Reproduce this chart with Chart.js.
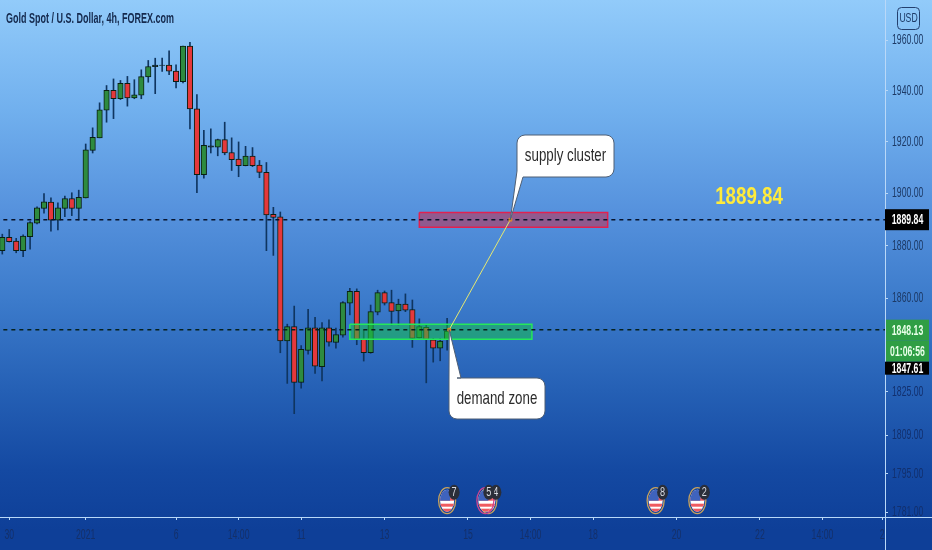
<!DOCTYPE html>
<html>
<head>
<meta charset="utf-8">
<style>
  html, body { margin: 0; padding: 0; }
  body { width: 932px; height: 550px; overflow: hidden; }
  canvas { display: block; background: linear-gradient(to bottom, #92cbfa 0, #71b0ee 110px, #5692dd 210px, #3c7bcb 300px, #2560b5 390px, #1449a2 470px, #0e3f98 530px, #0e3f98 550px); }
</style>
<script src="https://cdn.jsdelivr.net/npm/chart.js@4"></script>
</head>
<body>
<canvas id="myChart" width="932" height="550"></canvas>
<script>
var opens = [1878.0,1883.1,1881.7,1878.0,1883.3,1888.5,1894.2,1896.6,1889.7,1894.2,1898.0,1894.2,1898.2,1916.6,1921.5,1932.3,1940.1,1936.8,1942.9,1937.1,1938.2,1945.4,1949.4,1949.9,1950.1,1947.7,1943.5,1957.6,1932.8,1907.2,1918.4,1917.9,1920.8,1915.8,1913.2,1910.7,1914.4,1910.9,1908.1,1891.9,1890.9,1843.9,1849.3,1828.5,1840.4,1848.8,1834.3,1848.8,1843.4,1846.1,1858.1,1862.6,1844.5,1839.5,1854.7,1862.1,1858.3,1855.2,1857.8,1855.7,1845.0,1849.0,1844.3,1841.2,1844.5];
var highs = [1884.3,1886.1,1882.7,1884.0,1889.1,1894.8,1899.9,1898.2,1896.3,1898.9,1900.2,1901.2,1919.1,1925.4,1935.2,1942.0,1944.6,1944.0,1945.6,1944.3,1948.2,1951.9,1952.8,1952.8,1955.7,1950.2,1957.6,1959.1,1938.4,1924.4,1925.0,1921.0,1927.6,1921.5,1919.9,1918.2,1917.7,1912.7,1911.9,1894.6,1892.8,1850.2,1857.0,1842.2,1855.8,1852.8,1850.8,1851.8,1848.7,1858.7,1863.7,1863.5,1848.0,1857.4,1863.0,1862.7,1863.0,1859.6,1861.6,1859.3,1852.2,1849.9,1844.9,1844.9,1852.4];
var lows = [1876.7,1881.3,1877.2,1875.7,1878.6,1888.2,1892.3,1885.4,1885.9,1891.0,1891.4,1889.7,1898.2,1915.6,1921.5,1927.6,1929.0,1936.5,1933.9,1936.8,1936.8,1943.3,1938.8,1947.6,1946.3,1941.1,1943.0,1925.0,1900.2,1905.8,1915.6,1914.5,1914.9,1908.8,1906.4,1910.6,1910.3,1906.0,1878.0,1876.2,1839.5,1828.1,1816.9,1826.3,1839.0,1831.8,1829.0,1842.0,1841.2,1845.3,1853.7,1842.5,1836.4,1839.3,1853.7,1857.4,1849.9,1849.9,1854.9,1841.5,1844.9,1828.3,1836.0,1836.5,1840.5];
var closes = [1883.1,1881.4,1878.0,1883.6,1888.7,1894.4,1896.7,1889.7,1894.4,1898.0,1894.2,1898.4,1916.8,1921.7,1932.4,1940.1,1936.8,1942.9,1937.1,1938.3,1945.5,1949.5,1950.1,1950.1,1947.7,1943.5,1957.6,1932.8,1907.2,1918.6,1917.9,1920.8,1915.6,1913.0,1910.7,1914.4,1910.7,1908.1,1891.7,1890.7,1843.9,1849.3,1828.5,1840.8,1848.8,1834.5,1848.8,1843.5,1846.3,1858.3,1862.6,1844.5,1839.5,1854.9,1862.1,1858.1,1855.0,1857.8,1855.5,1844.9,1849.3,1844.5,1841.2,1843.9,1847.6];

var priceTicks = [1960, 1940, 1920, 1900, 1880, 1860, 1825, 1809, 1795, 1781];
var timeTickIdx = [1, 12, 25, 34, 43, 55, 67, 76, 85, 97, 109, 118, 126.6];
var timeTickLabels = ['30', '2021', '6', '14:00', '11', '13', '15', '14:00', '18', '20', '22', '14:00', '2'];

var supplyLevel = 1889.84;
var demandLevel = 1848.13;
var lastPrice = 1847.61;
var supplyZoneX = [60, 87.1];
var supplyZonePrice = [1892.6, 1886.9];
var demandZoneX = [50, 76.2];
var demandZonePrice = [1850.2, 1844.5];
var connectorX = [64.3, 73.1];
var eventIdx = [64, 69.5, 94, 100];
var eventCounts = ['7', '5', '8', '2'];

var sans = '"Liberation Sans"';
var indexes = opens.map(function (v, i) { return i; });

function rectPoints(xs, ys) {
    return [
        { x: xs[0], y: ys[0] }, { x: xs[1], y: ys[0] },
        { x: xs[1], y: ys[1] }, { x: xs[0], y: ys[1] }, { x: xs[0], y: ys[0] }
    ];
}

// text squeezed sideways, the reference picture is narrower than it is tall
function squeezed(ctx, font, text, x, y, sx) {
    ctx.save();
    ctx.font = font;
    ctx.translate(x, y);
    ctx.scale(sx, 1);
    ctx.fillText(text, 0, 0);
    ctx.restore();
}

function callout(ctx, b, tip, baseA, baseB, text) {
    var r = 8;
    ctx.beginPath();
    ctx.moveTo(b.l + r, b.t);
    ctx.arcTo(b.r, b.t, b.r, b.b, r);
    ctx.arcTo(b.r, b.b, b.l, b.b, r);
    if (tip.y > b.b) {
        ctx.lineTo(baseB, b.b);
        ctx.lineTo(tip.x, tip.y);
        ctx.lineTo(baseA, b.b - 6);
        ctx.lineTo(b.l, b.b - r);
        ctx.arcTo(b.l, b.t, b.r, b.t, r);
    } else {
        ctx.arcTo(b.l, b.b, b.l, b.t, r);
        ctx.lineTo(b.l, b.t + 2);
        ctx.lineTo(tip.x, tip.y);
        ctx.lineTo(baseB, b.t);
        ctx.lineTo(b.l + r, b.t);
    }
    ctx.closePath();
    ctx.fillStyle = '#ffffff';
    ctx.strokeStyle = '#4f5f74';
    ctx.lineWidth = 1;
    ctx.fill();
    ctx.stroke();
    ctx.fillStyle = '#2b2b2b';
    ctx.textAlign = 'center';
    ctx.textBaseline = 'middle';
    squeezed(ctx, '19px ' + sans, text, (b.l + b.r) / 2, (b.t + b.b) / 2, 0.7);
}

function badge(ctx, x, top, w, h, bg, fg, text) {
    ctx.fillStyle = bg;
    ctx.fillRect(x, top, w, h);
    ctx.fillStyle = fg;
    ctx.textAlign = 'center';
    ctx.textBaseline = 'middle';
    squeezed(ctx, 'bold 15px ' + sans, text, 907.5, top + h / 2 + 0.5, 0.58);
}

function eventMark(ctx, x, y, ring) {
    ctx.save();
    ctx.beginPath();
    ctx.ellipse(x, y, 7, 11, 0, 0, Math.PI * 2);
    ctx.fillStyle = '#ffffff';
    ctx.fill();
    ctx.clip();
    ctx.fillStyle = '#ef5a5f';
    ctx.fillRect(x - 9, y - 9, 18, 3);
    ctx.fillRect(x - 9, y - 3, 18, 3);
    ctx.fillRect(x - 9, y + 3, 18, 3);
    ctx.fillRect(x - 9, y + 8, 18, 4);
    ctx.fillStyle = '#3f63bd';
    ctx.fillRect(x - 9, y - 12, 12, 12);
    ctx.restore();
    ctx.beginPath();
    ctx.ellipse(x, y, 8.5, 13, 0, 0, Math.PI * 2);
    ctx.strokeStyle = ring;
    ctx.lineWidth = 1.3;
    ctx.stroke();
}

function eventCount(ctx, x, y, text) {
    ctx.beginPath();
    ctx.ellipse(x, y, 5.5, 7.5, 0, 0, Math.PI * 2);
    ctx.fillStyle = '#2a2e39';
    ctx.fill();
    ctx.fillStyle = '#d8dbe2';
    ctx.textAlign = 'center';
    ctx.textBaseline = 'middle';
    squeezed(ctx, '13px ' + sans, text, x, y + 0.5, 0.7);
}

var overlay = {
    id: 'overlay',
    afterDraw: function (chart) {
        var ctx = chart.ctx, a = chart.chartArea;
        var xs = chart.scales.x, ys = chart.scales.y;
        ctx.save();

        // axis lines run on to the edge of the picture
        ctx.strokeStyle = '#b9d8f8';
        ctx.lineWidth = 1;
        ctx.beginPath();
        ctx.moveTo(a.right + 0.5, a.bottom);
        ctx.lineTo(a.right + 0.5, 550);
        ctx.moveTo(a.right, a.bottom + 0.5);
        ctx.lineTo(932, a.bottom + 0.5);
        ctx.stroke();

        // axis labels from the library's ticks, squeezed like the reference
        ctx.textBaseline = 'middle';
        ctx.textAlign = 'left';
        ys.ticks.forEach(function (t, i) {
            ctx.fillStyle = t.value < 1830 ? '#12306e' : '#1d3a66';
            squeezed(ctx, '15px ' + sans, t.label, 892, ys.getPixelForTick(i), 0.58);
        });
        ctx.textAlign = 'center';
        ctx.fillStyle = '#14306a';
        xs.ticks.forEach(function (t, i) {
            squeezed(ctx, '14.5px ' + sans, t.label, xs.getPixelForTick(i), 535, 0.6);
        });

        // title
        ctx.fillStyle = '#14294d';
        ctx.textAlign = 'left';
        squeezed(ctx, 'bold 15px ' + sans, 'Gold Spot / U.S. Dollar, 4h, FOREX.com', 6, 19, 0.6);

        // currency box
        ctx.strokeStyle = '#24406e';
        ctx.beginPath();
        ctx.roundRect(897.5, 7.5, 22, 22, 4);
        ctx.stroke();
        ctx.fillStyle = '#1d3a66';
        ctx.textAlign = 'center';
        squeezed(ctx, '12px ' + sans, 'USD', 908.5, 18.5, 0.72);

        // level text
        ctx.fillStyle = '#ffeb3b';
        squeezed(ctx, 'bold 24px ' + sans, supplyLevel.toFixed(2), 749, ys.getPixelForValue(supplyLevel) - 22, 0.78);

        // price badges
        var supplyY = ys.getPixelForValue(supplyLevel);
        var demandY = ys.getPixelForValue(demandLevel);
        badge(ctx, 885, supplyY - 10.5, 44, 21, '#000000', '#ffffff', supplyLevel.toFixed(2));
        badge(ctx, 886, demandY - 10, 43, 21, '#2f9e44', '#e8ffe8', demandLevel.toFixed(2));
        badge(ctx, 886, demandY + 11, 43, 21, '#2f9e44', '#e8ffe8', '01:06:56');
        badge(ctx, 885, demandY + 32, 44, 13, '#000000', '#ffffff', lastPrice.toFixed(2));

        // callouts
        var supplyTip = { x: xs.getPixelForValue(connectorX[1]), y: supplyY };
        var demandTip = { x: xs.getPixelForValue(connectorX[0]), y: demandY };
        callout(ctx, { l: 517, t: 135, r: 614, b: 177 }, supplyTip, 517, 523, 'supply cluster');
        callout(ctx, { l: 449, t: 378, r: 545, b: 419 }, demandTip, 449, 461, 'demand zone');

        // economic events
        var my = 500.7;
        eventMark(ctx, xs.getPixelForValue(eventIdx[0]), my, '#c9a35c');
        eventMark(ctx, xs.getPixelForValue(eventIdx[1]) + 3, my, '#c9a35c');
        eventMark(ctx, xs.getPixelForValue(eventIdx[1]), my, '#d0458f');
        eventMark(ctx, xs.getPixelForValue(eventIdx[2]), my, '#c9a35c');
        eventMark(ctx, xs.getPixelForValue(eventIdx[3]), my, '#c9a35c');
        eventCount(ctx, xs.getPixelForValue(eventIdx[0]) + 7, my - 8.5, eventCounts[0]);
        eventCount(ctx, xs.getPixelForValue(eventIdx[1]) + 10.5, my - 8.5, '4');
        eventCount(ctx, xs.getPixelForValue(eventIdx[1]) + 3.5, my - 8.5, eventCounts[1]);
        eventCount(ctx, xs.getPixelForValue(eventIdx[2]) + 7, my - 8.5, eventCounts[2]);
        eventCount(ctx, xs.getPixelForValue(eventIdx[3]) + 7, my - 8.5, eventCounts[3]);
        ctx.restore();
    }
};

new Chart(document.getElementById("myChart"), {
    type: 'bar',
    data: {
        datasets: [{
            type: 'line',
            order: 1,
            data: [{ x: connectorX[0], y: demandLevel }, { x: connectorX[1], y: supplyLevel }],
            borderColor: "#e6e870",
            borderWidth: 1,
            pointStyle: 'rect',
            pointRadius: 2,
            pointBackgroundColor: 'rgba(230,140,40,0.7)',
            pointBorderColor: 'rgba(230,140,40,0.9)'
        }, {
            type: 'line',
            order: 2,
            data: [{ x: -1, y: supplyLevel }, { x: 127, y: supplyLevel }],
            borderColor: "#06122a",
            borderWidth: 1.4,
            borderDash: [4, 4],
            pointRadius: 0
        }, {
            type: 'line',
            order: 2,
            data: [{ x: -1, y: demandLevel }, { x: 127, y: demandLevel }],
            borderColor: "#06201c",
            borderWidth: 1.4,
            borderDash: [4, 4],
            pointRadius: 0
        }, {
            type: 'line',
            order: 3,
            data: rectPoints(supplyZoneX, supplyZonePrice),
            borderColor: "#e3204f",
            backgroundColor: "rgba(205,35,65,0.5)",
            borderWidth: 1.5,
            fill: 'shape',
            tension: 0,
            pointRadius: 0
        }, {
            type: 'line',
            order: 3,
            data: rectPoints(demandZoneX, demandZonePrice),
            borderColor: "#25e85a",
            backgroundColor: "rgba(20,200,70,0.5)",
            borderWidth: 1.5,
            fill: 'shape',
            tension: 0,
            pointRadius: 0
        }, {
            order: 4,
            grouped: false,
            barThickness: 5.5,
            borderWidth: 1,
            borderSkipped: false,
            borderColor: "#0a1f12",
            backgroundColor: function (c) {
                var i = c.dataIndex;
                if (Math.abs(opens[i] - closes[i]) < 1) return "#1b2a3a";
                return closes[i] >= opens[i] ? "#2e8b3f" : "#e5383b";
            },
            data: indexes.map(function (i) { return { x: i, y: [opens[i], closes[i]] }; })
        }, {
            order: 5,
            grouped: false,
            barThickness: 1,
            borderWidth: 0,
            backgroundColor: "#0f3560",
            data: indexes.map(function (i) { return { x: i, y: [lows[i], highs[i]] }; })
        }]
    },
    options: {
        responsive: false,
        animation: false,
        events: [],
        layout: { padding: 0, autoPadding: false },
        plugins: {
            legend: { display: false },
            tooltip: { enabled: false }
        },
        scales: {
            x: {
                type: 'linear',
                offset: false,
                min: -0.33,
                max: 127,
                afterBuildTicks: function (axis) {
                    axis.ticks = timeTickIdx.map(function (v) { return { value: v }; });
                },
                afterFit: function (axis) {
                    axis.height = 33;
                    axis.paddingLeft = 0;
                    axis.paddingRight = 0;
                },
                border: { color: '#b9d8f8', width: 1 },
                grid: { offset: false, drawOnChartArea: false, tickLength: 3, color: '#b9d8f8' },
                ticks: {
                    display: false,
                    autoSkip: false,
                    maxRotation: 0,
                    callback: function (v) { return timeTickLabels[timeTickIdx.indexOf(v)]; }
                }
            },
            y: {
                type: 'logarithmic',
                position: 'right',
                min: 1779.2,
                max: 1976,
                afterBuildTicks: function (axis) {
                    axis.ticks = priceTicks.map(function (v) { return { value: v }; });
                },
                afterFit: function (axis) {
                    axis.width = 47;
                    axis.paddingTop = 0;
                    axis.paddingBottom = 0;
                },
                border: { color: '#b9d8f8', width: 1 },
                grid: { drawOnChartArea: false, tickLength: 3, color: '#b9d8f8' },
                ticks: {
                    display: false,
                    autoSkip: false,
                    callback: function (v) { return Number(v).toFixed(2); }
                }
            }
        }
    },
    plugins: [overlay]
});
</script>
</body>
</html>
